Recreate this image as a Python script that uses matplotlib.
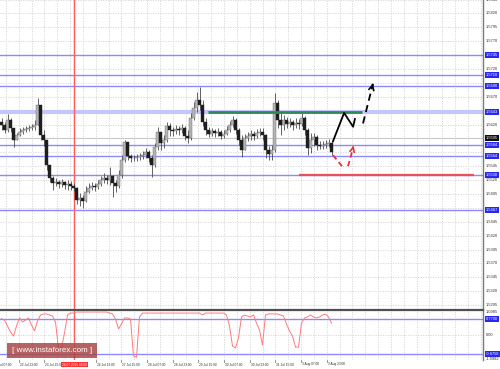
import matplotlib
matplotlib.use("Agg")
import matplotlib.pyplot as plt
import matplotlib.transforms as mtransforms
from matplotlib.patches import Rectangle
import numpy as np

# ---------------- data ----------------
first_open = 1.5625
closes = [1.5619, 1.5610, 1.5628, 1.5614, 1.5592, 1.5601, 1.5607, 1.5610, 1.5612, 1.5614, 1.5616,
          1.5619, 1.5655, 1.5601, 1.5592, 1.5547, 1.5524, 1.5515, 1.5517, 1.5513, 1.5517,
          1.5511, 1.5513, 1.5509, 1.5506, 1.5484, 1.5488, 1.5482, 1.5499, 1.5506, 1.5509,
          1.5508, 1.5513, 1.5520, 1.5524, 1.5520, 1.5527, 1.5515, 1.5509, 1.5529, 1.5556,
          1.5589, 1.5563, 1.5560, 1.5560, 1.5562, 1.5563, 1.5565, 1.5571, 1.5560, 1.5547,
          1.5580, 1.5607, 1.5587, 1.5592, 1.5617, 1.5610, 1.5608, 1.5612, 1.5610, 1.5614,
          1.5599, 1.5596, 1.5632, 1.5650, 1.5664, 1.5655, 1.5625, 1.5610, 1.5603, 1.5608,
          1.5605, 1.5607, 1.5599, 1.5603, 1.5610, 1.5619, 1.5628, 1.5610, 1.5592, 1.5574,
          1.5596, 1.5599, 1.5603, 1.5599, 1.5605, 1.5607, 1.5601, 1.5574, 1.5567, 1.5574,
          1.5659, 1.5628, 1.5619, 1.5628, 1.5621, 1.5625, 1.5619, 1.5623, 1.5621, 1.5632,
          1.5610, 1.5578, 1.5592, 1.5598, 1.5583, 1.5581, 1.5583, 1.5585, 1.5587, 1.5571]
highs = [1.5632, 1.5625, 1.5639, 1.5632, 1.5614, 1.5605, 1.5614, 1.5616, 1.5617, 1.5619, 1.5621,
         1.5628, 1.5668, 1.5643, 1.5610, 1.5592, 1.5547, 1.5527, 1.5524, 1.5520, 1.5522,
         1.5518, 1.5520, 1.5518, 1.5515, 1.5508, 1.5497, 1.5493, 1.5509, 1.5515, 1.5517,
         1.5515, 1.5520, 1.5527, 1.5533, 1.5529, 1.5544, 1.5529, 1.5520, 1.5538, 1.5565,
         1.5592, 1.5583, 1.5567, 1.5565, 1.5567, 1.5569, 1.5572, 1.5578, 1.5574, 1.5565,
         1.5587, 1.5616, 1.5607, 1.5601, 1.5625, 1.5623, 1.5616, 1.5619, 1.5617, 1.5621,
         1.5617, 1.5610, 1.5641, 1.5661, 1.5679, 1.5688, 1.5664, 1.5632, 1.5616, 1.5614,
         1.5612, 1.5614, 1.5610, 1.5610, 1.5617, 1.5626, 1.5635, 1.5632, 1.5614, 1.5601,
         1.5603, 1.5607, 1.5610, 1.5608, 1.5612, 1.5614, 1.5614, 1.5603, 1.5581, 1.5583,
         1.5677, 1.5664, 1.5643, 1.5637, 1.5634, 1.5632, 1.5628, 1.5632, 1.5630, 1.5641,
         1.5635, 1.5614, 1.5605, 1.5605, 1.5601, 1.5590, 1.5590, 1.5592, 1.5594, 1.5590]
lows = [1.5610, 1.5605, 1.5607, 1.5607, 1.5580, 1.5592, 1.5599, 1.5603, 1.5607, 1.5608, 1.5610,
        1.5610, 1.5619, 1.5592, 1.5581, 1.5538, 1.5517, 1.5502, 1.5509, 1.5506, 1.5508,
        1.5504, 1.5502, 1.5502, 1.5500, 1.5477, 1.5473, 1.5470, 1.5481, 1.5497, 1.5502,
        1.5500, 1.5504, 1.5509, 1.5515, 1.5513, 1.5511, 1.5490, 1.5499, 1.5506, 1.5524,
        1.5553, 1.5556, 1.5553, 1.5554, 1.5554, 1.5556, 1.5558, 1.5560, 1.5553, 1.5526,
        1.5544, 1.5574, 1.5574, 1.5578, 1.5589, 1.5599, 1.5599, 1.5603, 1.5601, 1.5605,
        1.5592, 1.5587, 1.5592, 1.5628, 1.5643, 1.5646, 1.5617, 1.5601, 1.5598, 1.5599,
        1.5598, 1.5599, 1.5594, 1.5596, 1.5601, 1.5607, 1.5616, 1.5603, 1.5583, 1.5562,
        1.5574, 1.5590, 1.5592, 1.5592, 1.5596, 1.5599, 1.5592, 1.5560, 1.5556, 1.5556,
        1.5571, 1.5614, 1.5601, 1.5610, 1.5614, 1.5616, 1.5610, 1.5614, 1.5612, 1.5617,
        1.5601, 1.5565, 1.5569, 1.5581, 1.5574, 1.5576, 1.5576, 1.5578, 1.5580, 1.5565]

indicator = [0.79, 0.72, 0.44, 0.16, -0.03, 0.44, 0.82, 0.63, 0.72, 0.82, 0.49,
             0.21, 0.68, 0.96, 1.01, 1.01, 0.96, 0.91, 0.63, -0.64, -0.59,
             0.11, 0.96, 1.05, 1.05, 1.10, 1.10, 1.10, 1.10, 1.10, 1.10,
             1.10, 1.10, 1.10, 1.10, 1.10, 1.05, 1.01, 0.77, 0.30, 0.54,
             0.82, 0.82, 0.77, -0.97, -1.02, 0.87, 1.05, 1.05, 1.05, 1.05,
             1.05, 1.05, 1.05, 1.05, 1.05, 1.05, 1.05, 1.05, 1.05, 1.05,
             1.05, 1.05, 1.05, 1.05, 1.05, 1.05, 0.96, 1.05, 1.05, 1.05,
             1.05, 1.05, 1.05, 1.05, 0.96, 0.44, -0.50, -0.59, -0.12, 0.87,
             0.96, 0.91, 0.87, 0.96, 0.58, 0.25, -0.45, 0.96, 1.01, 1.01,
             1.01, 1.01, 0.96, 0.91, 0.54, 0.21, -0.03, -0.55, -0.55, 0.58,
             0.82, 0.87, 0.96, 0.87, 0.82, 0.87, 0.96, 1.01, 0.87, 0.58]

level_lines = [1.5745, 1.5710, 1.5690, 1.5584, 1.5564, 1.5530, 1.5467]
thick_level = 1.5643
current_price = 1.5595
support_level = 1.5530
resistance_level = 1.5643
indicator_levels = [0.77, -0.875]
indicator_level_labels = ["0.7700", "-0.8750"]
indicator_extremes = [1.0985, -1.0982]

price_ticks = [1.5845, 1.5820, 1.5795, 1.5770, 1.5745, 1.5720, 1.5695, 1.5670, 1.5645,
               1.5620, 1.5595, 1.5570, 1.5545, 1.5520, 1.5495, 1.5470, 1.5445, 1.5420,
               1.5395, 1.5370, 1.5345, 1.5320, 1.5295]
time_labels = ["22 Jul 07:00", "22 Jul 23:00", "23 Jul 15:00", "24 Jul 07:00", "24 Jul 23:00",
               "27 Jul 15:00", "28 Jul 07:00", "28 Jul 23:00", "29 Jul 15:00", "30 Jul 07:00",
               "30 Jul 23:00", "31 Jul 15:00", "3 Aug 07:00", "3 Aug 23:00"]
crosshair_label = "24.07.2015 09:00"

# forecast sketches (x in bar units, y in price)
fc_solid_x = [111.0, 114.7, 117.7, 118.3]
fc_solid_y = [1.5590, 1.5641, 1.5616, 1.5630]
fc_dash_up = [(121.0, 1.5622), (124.3, 1.5693)]
fc_red_down = [(111.0, 1.5565), (114.0, 1.5545)]
fc_red_up = [(116.0, 1.5545), (117.7, 1.5578)]

# ---------------- layout ----------------
W, H = 500, 369
fig = plt.figure(figsize=(5, 3.69), dpi=100)
plt.rcParams['font.family'] = ['Liberation Sans', 'DejaVu Sans']

def fx(px):
    return px / W

def fy(py):
    return 1 - py / H

PX_PER_UNIT = 3.0
XMAX = 483 / PX_PER_UNIT

ax = fig.add_axes([0, fy(309), fx(483), 309 / H])
axi = fig.add_axes([0, fy(359.5), fx(483), 50 / H])

YTOP = 1.58442
YBOT = YTOP - 0.00018 * 309
ax.set_xlim(0, XMAX)
ax.set_ylim(YBOT, YTOP)
axi.set_xlim(0, XMAX)
axi.set_ylim(-1.134, 1.218)

for a in (ax, axi):
    a.set_xticks([])
    a.set_yticks([])
    for s in ("left", "top", "bottom"):
        a.spines[s].set_visible(False)
    a.spines["right"].set_color("#7a7a7a")
    a.spines["right"].set_linewidth(1.0)
axi.spines["top"].set_visible(True)
axi.spines["top"].set_color("#505050")
axi.spines["top"].set_linewidth(1.6)

grid_kw = dict(color="#d4d4d4", lw=0.6, ls=(0, (1.5, 1.5)), zorder=0)
GRID0 = 6.0 / PX_PER_UNIT
GRID_STEP = 12.83 / PX_PER_UNIT
grid_x = []
g = GRID0
while g < XMAX:
    grid_x.append(g)
    g += GRID_STEP
for gx in grid_x:
    ax.axvline(gx, **grid_kw)
    axi.axvline(gx, **grid_kw)
for t in price_ticks:
    ax.axhline(t, **grid_kw)
axi.axhline(0, **grid_kw)

# level lines
for lv in level_lines:
    ax.axhline(lv, color="#8a8aff", lw=1.0, zorder=1)
ax.axhline(thick_level, color="#c6c6ff", lw=3.0, zorder=1)
ax.axhline(current_price, color="#c8c8c8", lw=0.8, zorder=1)
for lv in indicator_levels:
    axi.axhline(lv, color="#8a8aff", lw=1.0, zorder=1)

# candles
n = len(closes)
x = np.arange(n) + 0.5
opens = np.array([first_open] + closes[:-1])
c = np.array(closes)
hi = np.maximum(np.array(highs), np.maximum(opens, c))
lo = np.minimum(np.array(lows), np.minimum(opens, c))
ax.vlines(x, lo, hi, color="#4a4a4a", lw=0.6, zorder=3)
bull = c >= opens
body_h = np.maximum(np.abs(c - opens), 0.00006)
ax.bar(x[bull], body_h[bull], bottom=np.minimum(opens, c)[bull], width=0.7,
       color="#b4b4b4", edgecolor="#6a6a6a", linewidth=0.3, zorder=4)
ax.bar(x[~bull], body_h[~bull], bottom=np.minimum(opens, c)[~bull], width=0.7,
       color="#1e1e1e", edgecolor="#1e1e1e", linewidth=0.3, zorder=4)

# support / resistance
ax.hlines(resistance_level, 208 / PX_PER_UNIT, 362 / PX_PER_UNIT, color="#2e8b57", lw=2.0, zorder=5)
ax.hlines(support_level, 299 / PX_PER_UNIT, 474 / PX_PER_UNIT, color="#e8505a", lw=1.6, zorder=5)

# forecast sketches
ax.plot(fc_solid_x, fc_solid_y, color="black", lw=1.3, zorder=6)
(x0, y0), (x1, y1) = fc_dash_up
ax.plot([x0, x1], [y0, y1], color="black", lw=1.3, ls=(0, (4, 2.5)), zorder=6)
ax.annotate("", xy=(x1 + 0.25, y1 + 0.0006), xytext=(x1 - 0.3, y1 - 0.0006),
            arrowprops=dict(arrowstyle="->", color="black", lw=1.2, mutation_scale=9), zorder=6)
(x0, y0), (x1, y1) = fc_red_down
ax.plot([x0, x1], [y0, y1], color="#e8303a", lw=1.3, ls=(0, (3, 2)), zorder=6)
(x0, y0), (x1, y1) = fc_red_up
ax.plot([x0, x1], [y0, y1], color="#e8303a", lw=1.3, ls=(0, (3, 2)), zorder=6)
ax.annotate("", xy=(x1 + 0.15, y1 + 0.0004), xytext=(x1 - 0.2, y1 - 0.0004),
            arrowprops=dict(arrowstyle="->", color="#e8303a", lw=1.2, mutation_scale=8), zorder=6)

# indicator
axi.plot(x, indicator, color="#ff7a7a", lw=0.7, zorder=4)

# crosshair
CROSS_X = 74 / PX_PER_UNIT
ax.axvline(CROSS_X, color="#ff5a5a", lw=1.0, zorder=2)
axi.axvline(CROSS_X, color="#ff5a5a", lw=1.0, zorder=2)

# right-hand labels
FS = 2.9
tr = mtransforms.blended_transform_factory(ax.transAxes, ax.transData)
tri = mtransforms.blended_transform_factory(axi.transAxes, axi.transData)
LX = 486 / 483
boxed = level_lines + [thick_level]
for t in price_ticks:
    if any(abs(t - b) < 0.0007 for b in boxed + [current_price]):
        continue
    ax.text(LX, t, f"{t:.4f}", transform=tr, fontsize=FS, va="center", ha="left",
            color="#303030", clip_on=False)
for lv in boxed:
    ax.text(LX, lv, f"{lv:.4f}", transform=tr, fontsize=FS, va="center", ha="left",
            color="white", clip_on=False, zorder=10,
            bbox=dict(boxstyle="square,pad=0.25", fc="#2828f0", ec="none"))
ax.text(LX, current_price, f"{current_price:.4f}", transform=tr, fontsize=FS, va="center",
        ha="left", color="white", clip_on=False, zorder=10,
        bbox=dict(boxstyle="square,pad=0.25", fc="#101010", ec="none"))

axi.text(LX, indicator_extremes[0], f"{indicator_extremes[0]:.4f}", transform=tri, fontsize=FS,
         va="center", ha="left", color="#303030", clip_on=False)
axi.text(LX, indicator_extremes[1], f"{indicator_extremes[1]:.4f}", transform=tri, fontsize=FS,
         va="center", ha="left", color="#303030", clip_on=False)
axi.text(LX, 0, "0.00", transform=tri, fontsize=FS, va="center", ha="left", color="#303030",
         clip_on=False)
for lv, lab in zip(indicator_levels, indicator_level_labels):
    axi.text(LX, lv, lab, transform=tri, fontsize=FS, va="center", ha="left", color="white",
             clip_on=False, zorder=10,
             bbox=dict(boxstyle="square,pad=0.25", fc="#2828f0", ec="none"))

# time labels (left-aligned at every other grid line)
trx = mtransforms.blended_transform_factory(axi.transData, fig.transFigure)
for k, lab in enumerate(time_labels):
    gx = GRID0 + GRID_STEP * (2 * k - 1)
    if lab == "24 Jul 07:00":
        continue
    axi.text(gx + 0.3, fy(364.5), lab, transform=trx, fontsize=2.35, va="center", ha="left",
             color="#303030", clip_on=False)
    axi.plot([gx, gx], [fy(359.5), fy(362)], transform=trx, color="#606060", lw=0.5,
             clip_on=False)
axi.text(CROSS_X + 0.3, fy(364.5), crosshair_label, transform=trx, fontsize=2.35, va="center",
         ha="center", color="white", clip_on=False, zorder=10,
         bbox=dict(boxstyle="square,pad=0.3", fc="#ff3030", ec="none"))

# watermark
fig.patches.append(Rectangle((fx(7), fy(358)), fx(90), 15 / H, transform=fig.transFigure,
                             facecolor="#a84848", alpha=0.85, edgecolor="none", zorder=20))
fig.text(fx(52), fy(350.5), "[ www.instaforex.com ]", fontsize=5.8, color="white",
         ha="center", va="center", zorder=21)

fig.savefig("out.png", dpi=100, facecolor="white")
